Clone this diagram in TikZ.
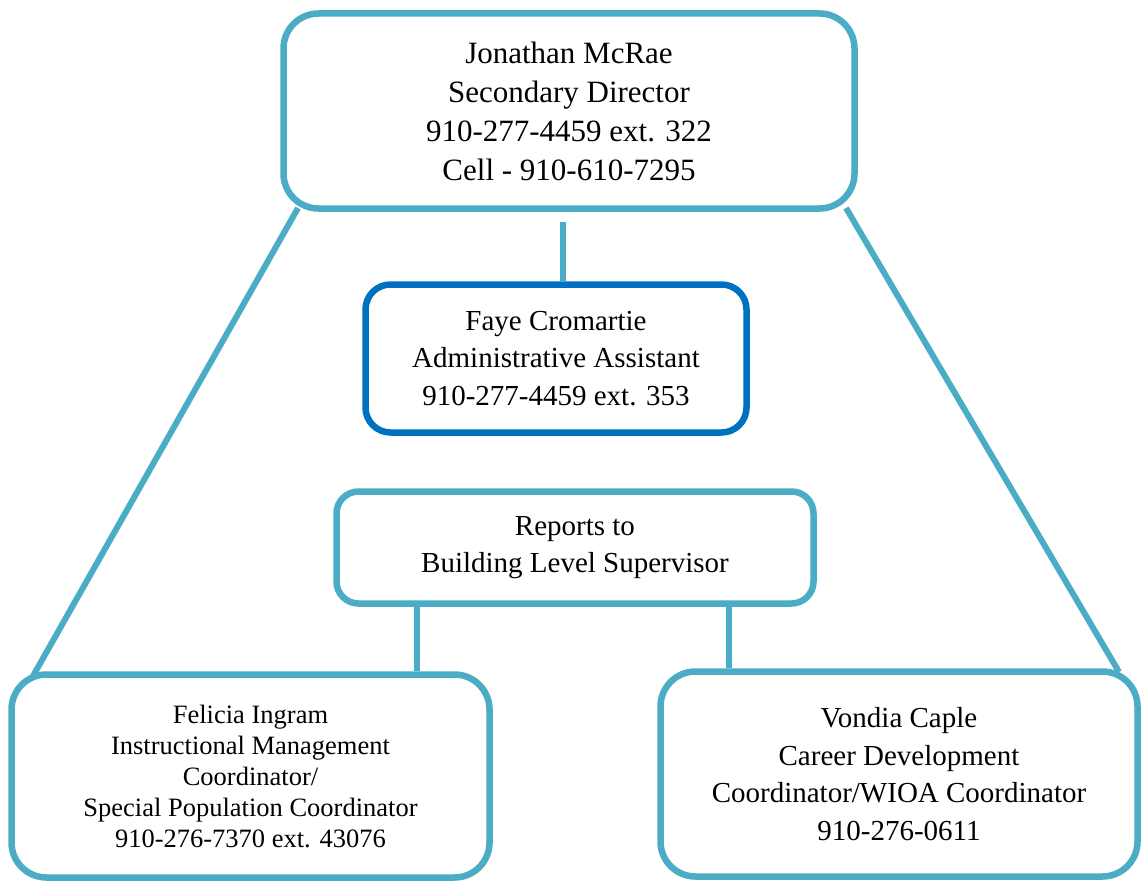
\documentclass[tikz,border=0pt]{standalone}
\usepackage{fontspec}
\setmainfont{Liberation Serif}
\definecolor{teal1}{HTML}{4BACC6}
\definecolor{blue1}{HTML}{0070C0}
\begin{document}
\begin{tikzpicture}[x=1pt,y=-1pt,
  box/.style={draw=teal1,line width=6.5pt,rounded corners=#1,align=center,fill=white,inner sep=0pt},
  conn/.style={draw=teal1,line width=6pt},
  big/.style={font=\fontsize{31}{39}\selectfont},
  mid/.style={font=\fontsize{29}{37.5}\selectfont},
  small/.style={font=\fontsize{26.5}{31}\selectfont}]
\useasboundingbox (0,0) rectangle (1142,883);
\fill[white] (0,0) rectangle (1142,883);
% coordinates for connector ends
\coordinate (tl) at (298,208);
\coordinate (tr) at (846,208);
\coordinate (bl) at (33,676);
\coordinate (br) at (1119,672);
\coordinate (ta) at (563,222);
\draw[conn] (tl) -- (bl);
\draw[conn] (tr) -- (br);
\node[box=35pt,big,minimum width=571pt,minimum height=195pt] (top) at (569,111)
 {Jonathan McRae\\Secondary Director\\910-277-4459 ext. 322\\Cell - 910-610-7295};
\node[box=25pt,draw=blue1,mid,minimum width=381pt,minimum height=148pt] (asst) at (556,358.5)
 {Faye Cromartie\\Administrative Assistant\\910-277-4459 ext. 353};
\node[box=22pt,mid,minimum width=477pt,minimum height=112pt] (rep) at (575,547.5)
 {Reports to\\Building Level Supervisor};
\node[box=35pt,small,minimum width=478pt,minimum height=203pt] (left) at (250.5,776)
 {Felicia Ingram\\Instructional Management\\Coordinator/\\Special Population Coordinator\\910-276-7370 ext. 43076};
\node[box=35pt,mid,minimum width=477pt,minimum height=205pt] (right) at (899,774)
 {Vondia Caple\\Career Development\\Coordinator/WIOA Coordinator\\910-276-0611};
\draw[conn] (ta) -- (ta |- asst.north);
\draw[conn] (417,0 |- rep.south) -- (417,0 |- left.north);
\draw[conn] (729,0 |- rep.south) -- (729,0 |- right.north);
\end{tikzpicture}
\end{document}
